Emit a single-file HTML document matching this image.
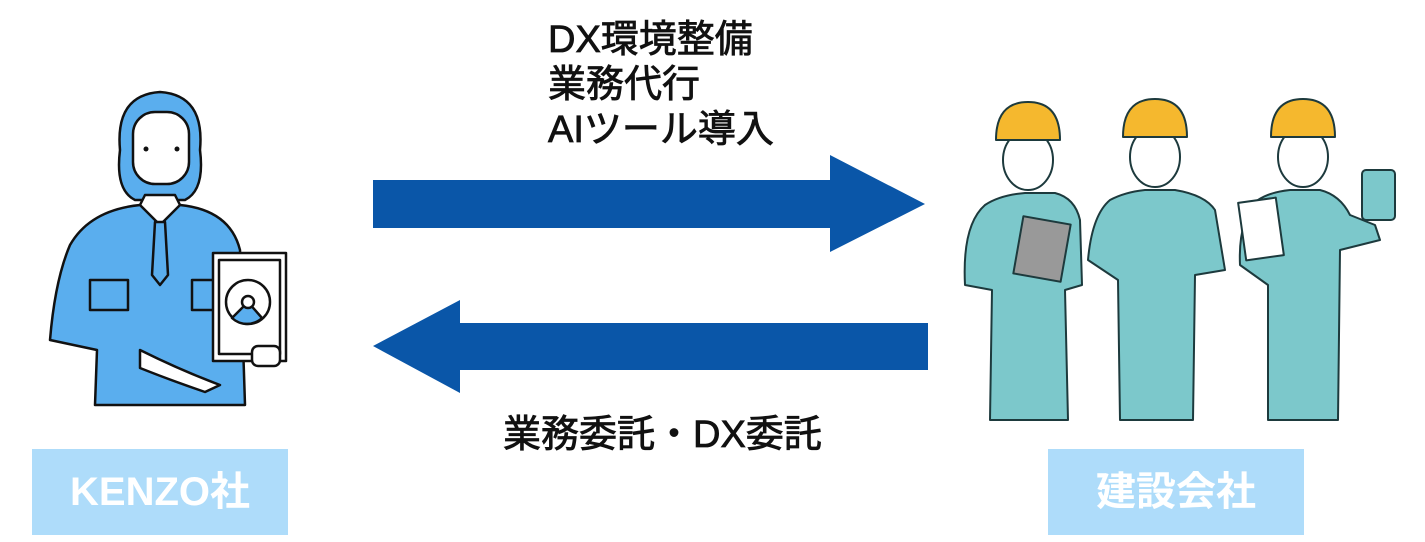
<!DOCTYPE html>
<html><head><meta charset="utf-8"><style>
html,body{margin:0;padding:0;background:#fff;}
body{width:1425px;height:542px;position:relative;overflow:hidden;font-family:"Liberation Sans","Noto Sans CJK JP",sans-serif;}
.t{position:absolute;font-size:38px;color:#111;line-height:45px;white-space:nowrap;-webkit-text-stroke:0.8px #111;}
.lab{position:absolute;background:#aedcfa;color:#fff;font-weight:bold;font-size:40px;text-align:center;line-height:86px;}
svg{position:absolute;left:0;top:0;}
</style></head><body>
<svg width="1425" height="542">
<polygon points="373,180 830,180 830,155 925,204 830,252 830,228 373,228" fill="#0a56a8"/>
<polygon points="928,323 460,323 460,300 373,346 460,393 460,370 928,370" fill="#0a56a8"/>
<g stroke="#111" stroke-width="2.5" stroke-linejoin="round" fill="#5aaeee">
<path d="M120,150 Q115,95 160,92 Q205,95 200,150 Q205,190 185,200 L135,200 Q115,190 120,150Z"/>
<path d="M70,245 Q90,210 140,205 L180,205 Q230,210 240,250 L245,405 L95,405 L97,350 L50,340 Q55,280 70,245Z"/>
<rect x="133" y="112" width="56" height="72" rx="22" fill="#fff"/>
<path d="M140,205 L160,225 L180,205 L175,195 L145,195Z" fill="#fff"/>
<path d="M155,222 L165,222 L168,275 L160,285 L152,275Z"/>
<rect x="90" y="280" width="38" height="30"/><rect x="192" y="280" width="38" height="30"/>
<path d="M140,350 Q180,370 220,385 L205,392 Q170,380 140,368Z" fill="#fff"/>
<rect x="213" y="253" width="73" height="108" fill="#fff"/>
<rect x="219" y="260" width="61" height="94" fill="#fff"/>
<circle cx="248" cy="302" r="22" fill="#fff"/>
<path d="M248,302 L262,318 A22,22 0 0 1 232,318Z"/>
<circle cx="248" cy="302" r="6" fill="#fff"/>
<rect x="252" y="346" width="28" height="20" rx="6" fill="#fff"/>
</g>
<g fill="#111"><circle cx="146" cy="149" r="2.5"/><circle cx="177" cy="149" r="2.5"/></g>
<g stroke="#1d3a3d" stroke-width="2" stroke-linejoin="round">
<g fill="#7cc8cb">
<path d="M985,205 Q1000,195 1025,193 L1055,193 Q1075,198 1080,220 L1082,285 L1065,290 L1068,420 L990,420 L992,290 L965,285 Q962,225 985,205Z"/>
<path d="M1110,200 Q1125,192 1145,190 L1175,190 Q1205,195 1215,210 L1225,270 L1195,275 L1193,420 L1120,420 L1118,280 L1088,260 Q1092,215 1110,200Z"/>
<path d="M1258,200 Q1270,192 1290,190 L1320,190 Q1340,195 1350,215 L1375,225 L1380,240 L1340,250 L1338,420 L1268,420 L1268,285 L1240,265 Q1238,220 1258,200Z"/>
</g>
<g fill="#fff">
<ellipse cx="1028" cy="160" rx="25" ry="30"/><ellipse cx="1155" cy="157" rx="25" ry="30"/><ellipse cx="1303" cy="157" rx="25" ry="30"/>
<rect x="1242" y="200" width="38" height="58" transform="rotate(-8 1261 229)"/>
</g>
<g fill="#f5b82e">
<path d="M996,140 Q996,102 1028,102 Q1060,102 1060,140Z"/>
<path d="M1123,137 Q1123,99 1155,99 Q1187,99 1187,137Z"/>
<path d="M1271,137 Q1271,99 1303,99 Q1335,99 1335,137Z"/>
</g>
<rect x="1018" y="220" width="48" height="58" fill="#999" transform="rotate(10 1042 249)"/>
<rect x="1362" y="170" width="33" height="50" rx="4" fill="#7cc8cb"/>
</g>
</svg>
<div class="t" style="left:548px;top:18px;">DX環境整備</div>
<div class="t" style="left:548px;top:63px;">業務代行</div>
<div class="t" style="left:548px;top:108px;">AIツール導入</div>
<div class="t" style="left:503px;top:413px;">業務委託・DX委託</div>
<div class="lab" style="left:32px;top:449px;width:256px;height:86px;">KENZO社</div>
<div class="lab" style="left:1048px;top:449px;width:256px;height:86px;">建設会社</div>
</body></html>
